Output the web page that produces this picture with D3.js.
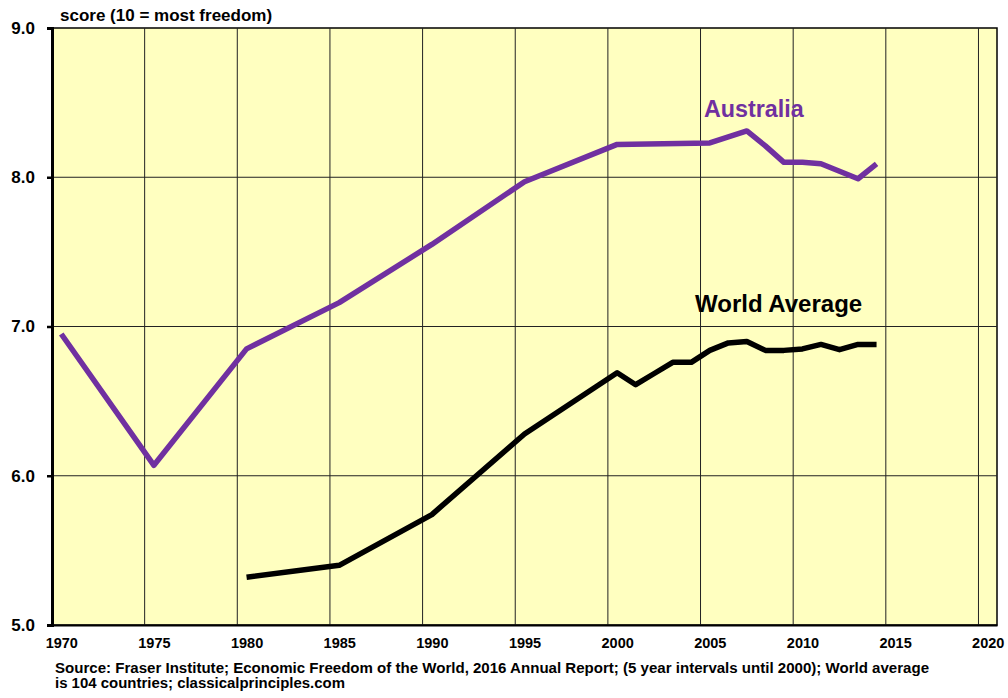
<!doctype html>
<html lang="en">
<head>
<meta charset="UTF-8">
<title>Economic Freedom</title>
<script src="https://cdn.jsdelivr.net/npm/d3@7"></script>
<style>
  body { margin: 0; background: #fff; }
  text { font-family: "Liberation Sans", Arial, sans-serif; font-weight: bold; }
</style>
</head>
<body>
<script>
  // data
  var ausYears = [1970, 1975, 1980, 1985, 1990, 1995, 2000, 2005, 2006, 2007, 2008, 2009, 2010, 2011, 2012, 2013, 2014];
  var ausValues = [6.95, 6.07, 6.85, 7.16, 7.55, 7.97, 8.22, 8.23, 8.27, 8.31, 8.21, 8.10, 8.10, 8.09, 8.04, 7.99, 8.09];
  var worldYears = [1980, 1985, 1990, 1995, 2000, 2001, 2002, 2003, 2004, 2005, 2006, 2007, 2008, 2009, 2010, 2011, 2012, 2013, 2014];
  var worldValues = [5.32, 5.40, 5.74, 6.28, 6.69, 6.61, 6.685, 6.76, 6.76, 6.84, 6.89, 6.90, 6.84, 6.84, 6.85, 6.88, 6.845, 6.88, 6.88];
  var xTicks = [1970, 1975, 1980, 1985, 1990, 1995, 2000, 2005, 2010, 2015, 2020];
  var yTicks = [5.0, 6.0, 7.0, 8.0, 9.0];

  var width = 1008, height = 698;
  var plot = {left: 52, right: 997, top: 28, bottom: 625};

  var svg = d3.select("body").append("svg")
      .attr("width", width)
      .attr("height", height);

  // years sit in the middle of a year slot, gridlines fall between slots
  var x = d3.scaleLinear().domain([1969.5, 2020.5]).range([plot.left, plot.right]);
  var y = d3.scaleLinear().domain([5, 9]).range([plot.bottom, plot.top]);

  svg.append("rect")
      .attr("x", plot.left).attr("y", plot.top)
      .attr("width", plot.right - plot.left).attr("height", plot.bottom - plot.top)
      .attr("fill", "#ffffc0")
      .attr("stroke", "#000").attr("stroke-width", 1.5);

  // vertical gridlines
  svg.selectAll(".vgrid")
      .data(xTicks.slice(1))
      .enter().append("line")
      .attr("class", "vgrid")
      .attr("x1", function(d) { return x(d - 0.5); })
      .attr("x2", function(d) { return x(d - 0.5); })
      .attr("y1", plot.top).attr("y2", plot.bottom)
      .attr("stroke", "#222").attr("stroke-width", 1);

  // horizontal gridlines
  svg.selectAll(".hgrid")
      .data(yTicks.slice(1, -1))
      .enter().append("line")
      .attr("class", "hgrid")
      .attr("x1", plot.left).attr("x2", plot.right)
      .attr("y1", function(d) { return y(d); })
      .attr("y2", function(d) { return y(d); })
      .attr("stroke", "#222").attr("stroke-width", 1);

  // y axis
  var yAxis = d3.axisLeft(y)
      .tickValues(yTicks)
      .tickFormat(d3.format(".1f"))
      .tickSize(5)
      .tickPadding(12);
  var gy = svg.append("g")
      .attr("transform", "translate(" + plot.left + ",0)")
      .call(yAxis);
  gy.select(".domain").attr("stroke", "#000").attr("stroke-width", 3);
  gy.selectAll(".tick line").attr("stroke", "#000").attr("stroke-width", 2.5);
  gy.selectAll(".tick text")
      .attr("font-size", 17)
      .attr("font-family", "Liberation Sans, Arial, sans-serif")
      .attr("font-weight", "bold")
      .attr("fill", "#000");

  // x axis
  var xAxis = d3.axisBottom(x)
      .tickValues(xTicks)
      .tickFormat(d3.format("d"))
      .tickSize(0)
      .tickPadding(13);
  var gx = svg.append("g")
      .attr("transform", "translate(0," + plot.bottom + ")")
      .call(xAxis);
  gx.select(".domain").attr("stroke", "#000").attr("stroke-width", 2);
  gx.selectAll(".tick text")
      .attr("font-size", 14.5)
      .attr("font-family", "Liberation Sans, Arial, sans-serif")
      .attr("font-weight", "bold")
      .attr("fill", "#000");

  var line = d3.line()
      .x(function(d) { return x(d[0]); })
      .y(function(d) { return y(d[1]); });

  svg.append("path")
      .datum(d3.zip(ausYears, ausValues))
      .attr("d", line)
      .attr("fill", "none")
      .attr("stroke", "#7030a0")
      .attr("stroke-width", 5.5)
      .attr("stroke-linejoin", "round");

  svg.append("path")
      .datum(d3.zip(worldYears, worldValues))
      .attr("d", line)
      .attr("fill", "none")
      .attr("stroke", "#000")
      .attr("stroke-width", 5.5)
      .attr("stroke-linejoin", "round");

  svg.append("text")
      .attr("x", 704).attr("y", 117)
      .attr("font-size", 23.3)
      .attr("fill", "#7030a0")
      .text("Australia");

  svg.append("text")
      .attr("x", 695).attr("y", 312)
      .attr("font-size", 24)
      .attr("fill", "#000")
      .text("World Average");

  svg.append("text")
      .attr("x", 60).attr("y", 21)
      .attr("font-size", 17)
      .text("score (10 = most freedom)");

  svg.append("text")
      .attr("x", 55).attr("y", 673)
      .attr("font-size", 14)
      .attr("textLength", 874)
      .attr("lengthAdjust", "spacingAndGlyphs")
      .text("Source: Fraser Institute; Economic Freedom of the World, 2016 Annual Report; (5 year intervals until 2000); World average");
  svg.append("text")
      .attr("x", 55).attr("y", 688)
      .attr("font-size", 14)
      .attr("textLength", 290)
      .attr("lengthAdjust", "spacingAndGlyphs")
      .text("is 104 countries; classicalprinciples.com");
</script>
</body>
</html>
